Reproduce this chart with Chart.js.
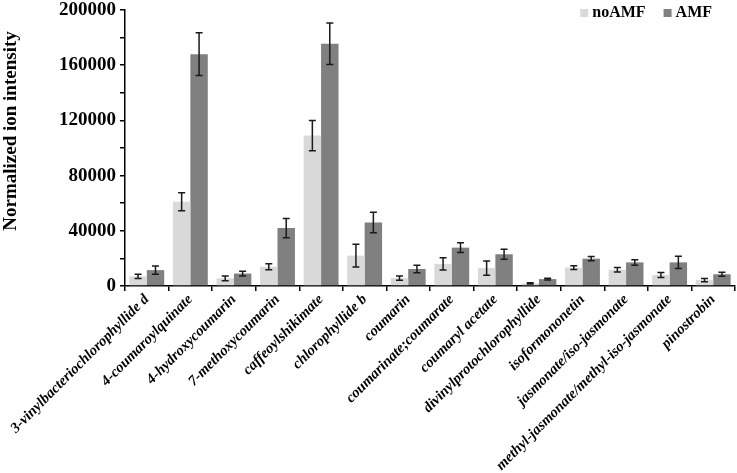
<!DOCTYPE html>
<html>
<head>
<meta charset="utf-8">
<script src="https://cdn.jsdelivr.net/npm/chart.js@4"></script>
<style>
  html, body { margin: 0; padding: 0; background: #fff; }
  #wrap { width: 737px; height: 473px; }
</style>
</head>
<body>
<div id="wrap"><canvas id="chart"></canvas></div>
<script>
// chart data
const compounds = [
  "3-vinylbacteriochlorophyllide d", "4-coumaroylquinate", "4-hydroxycoumarin",
  "7-methoxycoumarin", "caffeoylshikimate", "chlorophyllide b", "coumarin",
  "coumarinate;coumarate", "coumaryl acetate", "divinylprotochlorophyllide",
  "isoformononetin", "jasmonate/iso-jasmonate", "methyl-jasmonate/methyl-iso-jasmonate",
  "pinostrobin"
];
const noAMF = [7000, 61000, 5500, 14000, 109000, 22000, 5700, 16000, 13000, 1900, 13300, 11800, 8000, 4300];
const noAMFErr = [1600, 6500, 1700, 2200, 11000, 8300, 1500, 4400, 5200, 400, 1300, 1600, 1800, 1200];
const amf = [11500, 168000, 9000, 42000, 175500, 46000, 12300, 27800, 23000, 5000, 19800, 17100, 17100, 8500];
const amfErr = [3000, 15500, 1700, 7000, 15000, 7400, 2700, 3600, 3600, 700, 1500, 2000, 4400, 1500];
const yTicks = [0, 40000, 80000, 120000, 160000, 200000];
const yTitle = "Normalized ion intensity";

const SERIF = "'Liberation Serif', 'Times New Roman', serif";

// draws the +/- error whiskers on top of each bar
const errorBars = {
  id: "errorBars",
  afterDatasetsDraw(chart) {
    const ctx = chart.ctx;
    const y = chart.scales.y;
    ctx.save();
    ctx.strokeStyle = "#1a1a1a";
    ctx.lineWidth = 1.5;
    chart.data.datasets.forEach((ds, di) => {
      const meta = chart.getDatasetMeta(di);
      meta.data.forEach((bar, i) => {
        const v = ds.data[i];
        const e = ds.errors[i];
        const top = y.getPixelForValue(v + e);
        const bot = y.getPixelForValue(v - e);
        const x = bar.x;
        ctx.beginPath();
        ctx.moveTo(x, top); ctx.lineTo(x, bot);
        ctx.moveTo(x - 3.5, top); ctx.lineTo(x + 3.5, top);
        ctx.moveTo(x - 3.5, bot); ctx.lineTo(x + 3.5, bot);
        ctx.stroke();
      });
    });
    ctx.restore();
  }
};

// legend in the top-right corner plus the vertical axis title
const annotations = {
  id: "annotations",
  afterDraw(chart) {
    const ctx = chart.ctx;
    const area = chart.chartArea;
    ctx.save();
    ctx.font = "bold 16px " + SERIF;
    ctx.textBaseline = "middle";
    let x = area.right - 23;
    const y = 13;
    const items = [...chart.data.datasets].reverse();
    items.forEach((ds) => {
      const w = ctx.measureText(ds.label).width;
      x -= w;
      ctx.fillStyle = "#000";
      ctx.fillText(ds.label, x, y);
      x -= 12;
      ctx.fillStyle = ds.backgroundColor;
      ctx.fillRect(x, y - 4, 8, 8);
      x -= 18;
    });

    ctx.translate(11, 131);
    ctx.rotate(-Math.PI / 2);
    ctx.font = "bold 19px " + SERIF;
    ctx.textAlign = "center";
    ctx.fillStyle = "#000";
    ctx.fillText(yTitle, 0, 0);
    ctx.restore();
  }
};

new Chart(document.getElementById("chart"), {
  type: "bar",
  data: {
    labels: compounds,
    datasets: [
      { label: "noAMF", data: noAMF, errors: noAMFErr, backgroundColor: "#d9d9d9", borderWidth: 0 },
      { label: "AMF", data: amf, errors: amfErr, backgroundColor: "#808080", borderWidth: 0 },
    ],
  },
  options: {
    responsive: true,
    maintainAspectRatio: false,
    animation: false,
    layout: { padding: { top: 10, right: 2 } },
    datasets: { bar: { categoryPercentage: 0.8, barPercentage: 1.0 } },
    plugins: {
      tooltip: { enabled: false },
      legend: { display: false },
    },
    scales: {
      x: {
        afterFit: (s) => { s.height = 187; },
        border: { color: "#000", width: 1.5 },
        grid: { display: true, drawOnChartArea: false, color: "#000", tickLength: 5, offset: true, lineWidth: 1.5 },
        ticks: {
          autoSkip: false,
          minRotation: 45,
          maxRotation: 45,
          padding: 0,
          color: "#000",
          font: { family: SERIF, size: 14.7, weight: "bold", style: "italic" },
        },
      },
      y: {
        min: 0,
        max: 200000,
        afterFit: (s) => { s.width = 125; s.paddingTop = 0; },
        border: { color: "#000", width: 1.5 },
        grid: { display: true, drawOnChartArea: false, color: "#000", tickLength: 5, lineWidth: 1.5 },
        ticks: {
          stepSize: 20000,
          padding: 4,
          color: "#000",
          font: { family: SERIF, size: 19, weight: "bold" },
          callback: (v) => (yTicks.includes(v) ? v : ""),
        },
      },
    },
  },
  plugins: [errorBars, annotations],
});
</script>
</body>
</html>
